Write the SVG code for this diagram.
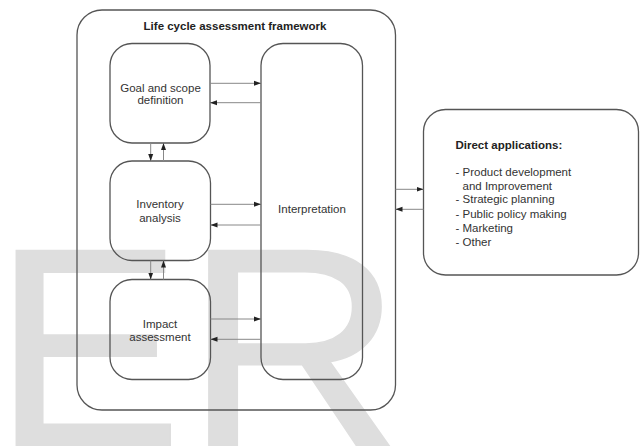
<svg xmlns="http://www.w3.org/2000/svg" width="640" height="446" viewBox="0 0 640 446">
<style>
.box{fill:none;stroke:#555;stroke-width:1.3}
.lbl{font-family:"Liberation Sans",Arial,sans-serif;font-size:11.5px;fill:#333;text-anchor:middle}
.lst{font-family:"Liberation Sans",Arial,sans-serif;font-size:11.5px;fill:#333}
.ttl{font-family:"Liberation Sans",Arial,sans-serif;font-size:11.5px;font-weight:bold;fill:#222}
.arr{stroke:#888;stroke-width:1;fill:none;marker-end:url(#ah)}
.wm{font-family:"Liberation Sans",Arial,sans-serif;font-size:284px;fill:#dedede;stroke:#dedede;stroke-width:1.5}
</style>
<defs>
<marker id="ah" markerUnits="userSpaceOnUse" markerWidth="8" markerHeight="6" refX="7" refY="3" orient="auto">
<path d="M0,0.5 L7,3 L0,5.5 Z" fill="#222"/>
</marker>
</defs>
<rect width="640" height="446" fill="#fff"/>
<g id="watermark">
<text class="wm" x="-7" y="446">E</text>
<text class="wm" x="0" y="446" transform="translate(184,0) scale(1.07,1)">R</text>
</g>
<g id="framework">
<rect class="box" x="77" y="10" width="318.5" height="400" rx="25"/>
<text class="ttl" x="235" y="30" text-anchor="middle">Life cycle assessment framework</text>
</g>
<g id="goal">
<rect class="box" x="110" y="43.5" width="100" height="99.5" rx="22"/>
<text class="lbl" x="160.5" y="92.3">Goal and scope</text>
<text class="lbl" x="160.5" y="104">definition</text>
</g>
<g id="inventory">
<rect class="box" x="110" y="161" width="100.5" height="99.5" rx="22"/>
<text class="lbl" x="160" y="207.5">Inventory</text>
<text class="lbl" x="160" y="222">analysis</text>
</g>
<g id="impact">
<rect class="box" x="110" y="279.5" width="100.5" height="100" rx="22"/>
<text class="lbl" x="160" y="327.5">Impact</text>
<text class="lbl" x="160" y="341">assessment</text>
</g>
<g id="interpretation">
<rect class="box" x="261" y="43.5" width="101.5" height="336" rx="22"/>
<text class="lbl" x="312" y="213">Interpretation</text>
</g>
<g id="applications">
<rect class="box" x="423.5" y="109.5" width="215" height="165.5" rx="22"/>
<text class="ttl" x="455.5" y="149">Direct applications:</text>
<text class="lst" x="455.5" y="175.7">- Product development</text>
<text class="lst" x="462.5" y="189.7">and Improvement</text>
<text class="lst" x="455.5" y="203.3">- Strategic planning</text>
<text class="lst" x="455.5" y="218">- Public policy making</text>
<text class="lst" x="455.5" y="232">- Marketing</text>
<text class="lst" x="455.5" y="245.7">- Other</text>
</g>
<g id="connectors">
<line class="arr" x1="210" y1="83.3" x2="261" y2="83.3"/>
<line class="arr" x1="261" y1="102.7" x2="210" y2="102.7"/>
<line class="arr" x1="150.7" y1="143" x2="150.7" y2="161"/>
<line class="arr" x1="163.5" y1="161" x2="163.5" y2="143"/>
<line class="arr" x1="210.5" y1="204.3" x2="261" y2="204.3"/>
<line class="arr" x1="261" y1="225" x2="210.5" y2="225"/>
<line class="arr" x1="150.7" y1="260.5" x2="150.7" y2="279.5"/>
<line class="arr" x1="163.5" y1="279.5" x2="163.5" y2="260.5"/>
<line class="arr" x1="210.5" y1="319" x2="261" y2="319"/>
<line class="arr" x1="261" y1="339.3" x2="210.5" y2="339.3"/>
<line class="arr" x1="395.5" y1="189.3" x2="423.5" y2="189.3"/>
<line class="arr" x1="423.5" y1="209.3" x2="395.5" y2="209.3"/>
</g>
</svg>
